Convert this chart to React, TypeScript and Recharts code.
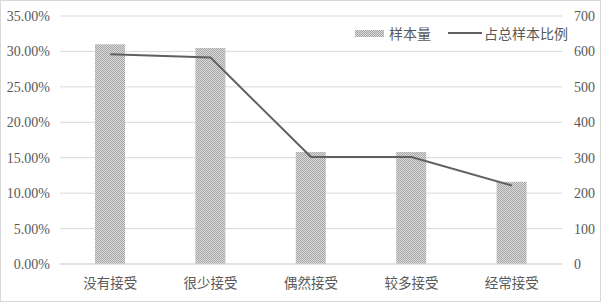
import { Bar, CartesianGrid, ComposedChart, Line, XAxis, YAxis } from "recharts";

const categories = ["没有接受", "很少接受", "偶然接受", "较多接受", "经常接受"];
const sampleCounts = [620, 610, 316, 316, 232];
const sampleRatios = [29.61, 29.13, 15.09, 15.09, 11.08];
const ratioTicks = [0, 5, 10, 15, 20, 25, 30, 35];
const countTicks = [0, 100, 200, 300, 400, 500, 600, 700];

const data = categories.map((name, i) => ({
  name,
  count: sampleCounts[i],
  ratio: sampleRatios[i],
}));

const serif = "'Liberation Serif', 'DejaVu Serif', serif";
const cjk = "'Noto Sans CJK SC', sans-serif";
const grid = "#d9d9d9";
const text = "#595959";

// fine checker fill, like the printed dither in the source
const Dither = ({ id }: { id: string }) => (
  <pattern id={id} x="0" y="0" width="2" height="2" patternUnits="userSpaceOnUse">
    <rect width="2" height="2" fill="#dadada" />
    <rect width="1" height="1" fill="#a6a6a6" />
    <rect x="1" y="1" width="1" height="1" fill="#a6a6a6" />
  </pattern>
);

export default function App() {
  return (
    <div style={{ position: "absolute", left: 0, top: 0, width: 601, height: 302, background: "#fff" }}>
      <ComposedChart
        width={601}
        height={302}
        data={data}
        margin={{ top: 16, right: 0, bottom: 0, left: 0 }}
      >
        <defs>
          <Dither id="dither" />
        </defs>
        <CartesianGrid yAxisId="left" vertical={false} stroke={grid} />
        <XAxis
          dataKey="name"
          height={38}
          tickSize={0}
          tickMargin={14}
          axisLine={{ stroke: grid }}
          tick={{ fill: text, fontSize: 13.5, fontFamily: cjk }}
        />
        <YAxis
          yAxisId="left"
          width={60}
          domain={[0, 35]}
          ticks={ratioTicks}
          tickFormatter={(v: number) => `${v.toFixed(2)}%`}
          axisLine={false}
          tickLine={false}
          tickSize={0}
          tickMargin={10}
          tick={{ fill: text, fontSize: 14, fontFamily: serif }}
        />
        <YAxis
          yAxisId="right"
          orientation="right"
          width={39}
          domain={[0, 700]}
          ticks={countTicks}
          axisLine={false}
          tickLine={false}
          tickSize={0}
          tickMargin={12}
          tick={{ fill: text, fontSize: 14, fontFamily: serif }}
        />
        <Bar yAxisId="right" dataKey="count" barSize={30} fill="url(#dither)" isAnimationActive={false} />
        <Line
          yAxisId="left"
          type="linear"
          dataKey="ratio"
          stroke="#606060"
          strokeWidth={2}
          dot={false}
          isAnimationActive={false}
        />
      </ComposedChart>

      {/* legend */}
      <div style={{ position: "absolute", left: 355, top: 24, height: 18, display: "flex", alignItems: "center", fontFamily: cjk, fontSize: 14, color: text, whiteSpace: "nowrap" }}>
        <svg width={29} height={7} style={{ marginRight: 5 }}>
          <defs>
            <Dither id="dither-legend" />
          </defs>
          <rect width={29} height={7} fill="url(#dither-legend)" />
        </svg>
        <span>样本量</span>
        <svg width={34} height={4} style={{ marginLeft: 17, marginRight: 2 }}>
          <line x1={0} y1={2} x2={34} y2={2} stroke="#606060" strokeWidth={2} />
        </svg>
        <span>占总样本比例</span>
      </div>

      <div style={{ position: "absolute", inset: 0, border: `1px solid ${grid}`, pointerEvents: "none" }} />
    </div>
  );
}
